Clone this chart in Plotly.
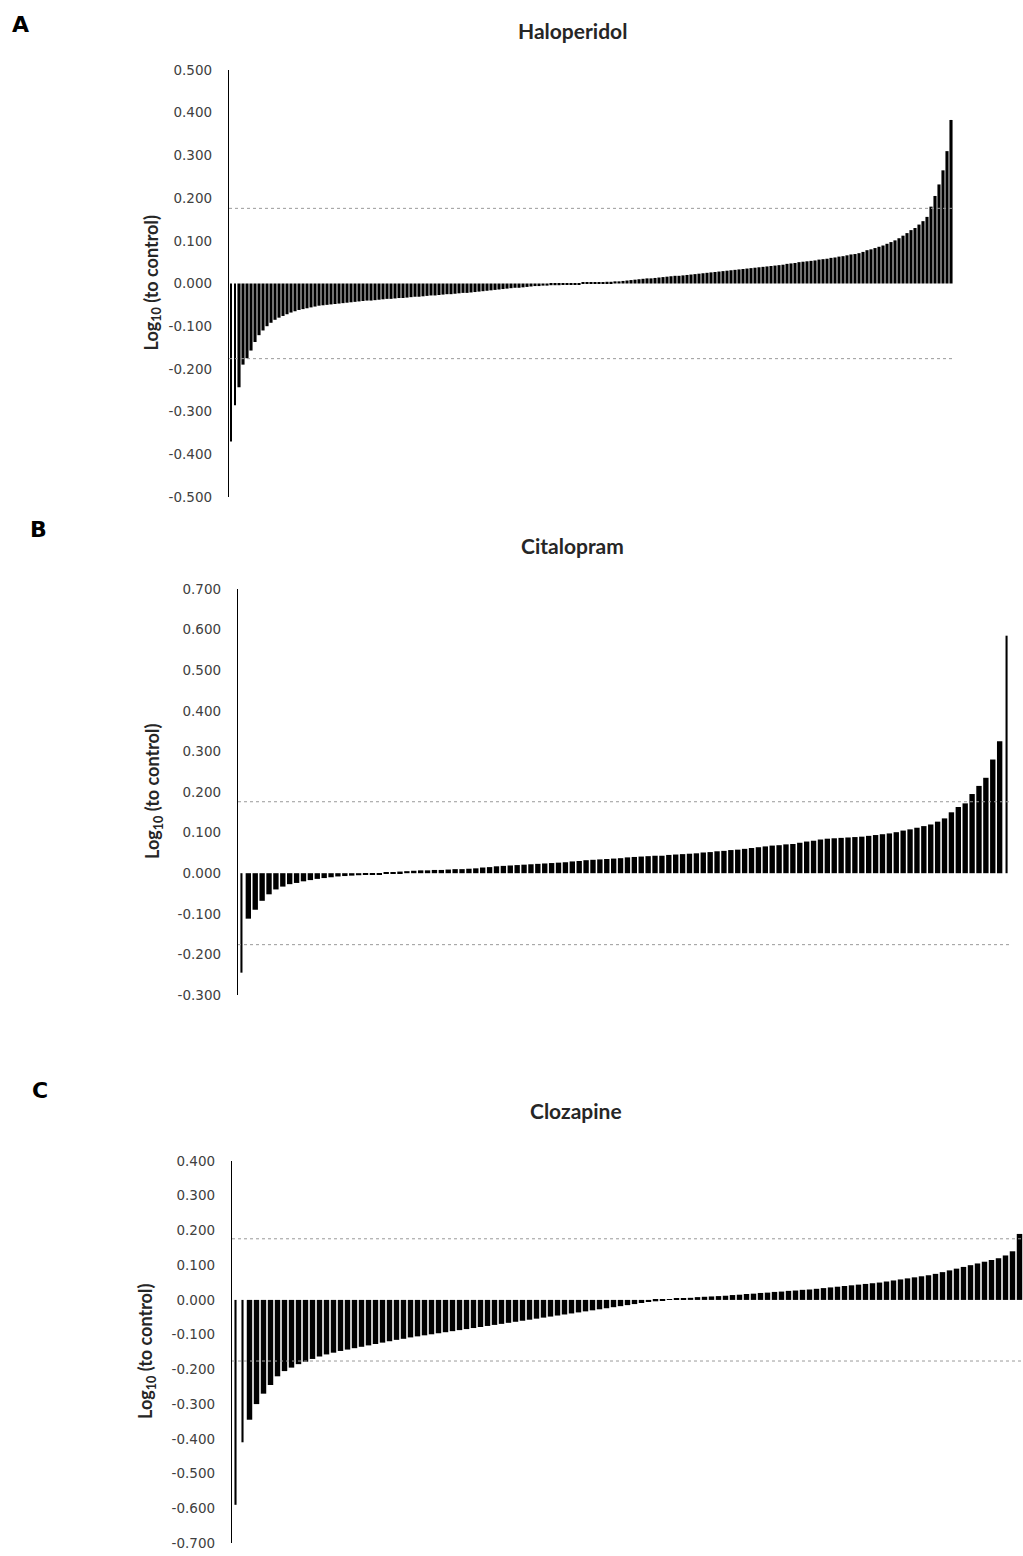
import plotly.graph_objects as go

# ---------------- data (sorted log10 ratios to control) ----------------
haloperidol = [
    -0.370, -0.285, -0.243, -0.190, -0.175, -0.157, -0.137, -0.121, -0.110, -0.100,
    -0.092, -0.085, -0.080, -0.076, -0.072, -0.068, -0.065, -0.062, -0.060, -0.058,
    -0.056, -0.054, -0.052, -0.051, -0.050, -0.049, -0.048, -0.047, -0.046, -0.045,
    -0.044, -0.043, -0.042, -0.041, -0.040, -0.040, -0.039, -0.038, -0.037, -0.036,
    -0.036, -0.035, -0.034, -0.034, -0.033, -0.032, -0.031, -0.031, -0.030, -0.029,
    -0.028, -0.028, -0.027, -0.026, -0.025, -0.025, -0.024, -0.023, -0.022, -0.022,
    -0.021, -0.020, -0.019, -0.018, -0.017, -0.016, -0.015, -0.014, -0.013, -0.012,
    -0.011, -0.010, -0.010, -0.009, -0.008, -0.007, -0.006, -0.006, -0.005, -0.005,
    -0.004, -0.004, -0.004, -0.003, -0.003, -0.003, -0.002, -0.002, 0.002, 0.002,
    0.002, 0.003, 0.003, 0.003, 0.004, 0.004, 0.005, 0.005, 0.006, 0.007,
    0.008, 0.009, 0.010, 0.011, 0.012, 0.012, 0.013, 0.014, 0.015, 0.016,
    0.017, 0.018, 0.018, 0.019, 0.020, 0.021, 0.022, 0.023, 0.024, 0.025,
    0.026, 0.027, 0.028, 0.029, 0.030, 0.031, 0.032, 0.033, 0.034, 0.035,
    0.036, 0.037, 0.038, 0.039, 0.040, 0.041, 0.042, 0.043, 0.044, 0.046,
    0.047, 0.048, 0.050, 0.051, 0.052, 0.053, 0.054, 0.056, 0.057, 0.058,
    0.060, 0.061, 0.063, 0.064, 0.066, 0.068, 0.069, 0.071, 0.074, 0.078,
    0.080, 0.083, 0.086, 0.089, 0.093, 0.097, 0.101, 0.106, 0.112, 0.118,
    0.125, 0.130, 0.138, 0.146, 0.156, 0.180, 0.205, 0.232, 0.265, 0.310,
    0.383,
]

citalopram = [
    -0.245, -0.112, -0.090, -0.068, -0.052, -0.040, -0.033, -0.027, -0.024, -0.020,
    -0.017, -0.014, -0.012, -0.010, -0.008, -0.007, -0.006, -0.005, -0.004, -0.004,
    -0.003, 0.002, 0.003, 0.004, 0.005, 0.006, 0.007, 0.007, 0.008, 0.008,
    0.009, 0.010, 0.010, 0.011, 0.012, 0.014, 0.015, 0.017, 0.018, 0.019,
    0.020, 0.021, 0.022, 0.023, 0.024, 0.025, 0.026, 0.027, 0.029, 0.030,
    0.032, 0.033, 0.034, 0.035, 0.036, 0.037, 0.039, 0.040, 0.041, 0.042,
    0.043, 0.043, 0.045, 0.046, 0.047, 0.048, 0.049, 0.051, 0.052, 0.054,
    0.055, 0.057, 0.058, 0.060, 0.062, 0.064, 0.066, 0.068, 0.069, 0.071,
    0.072, 0.075, 0.078, 0.080, 0.083, 0.085, 0.086, 0.087, 0.088, 0.089,
    0.090, 0.092, 0.094, 0.096, 0.098, 0.101, 0.105, 0.108, 0.112, 0.116,
    0.120, 0.127, 0.135, 0.150, 0.163, 0.172, 0.195, 0.215, 0.235, 0.280,
    0.325, 0.585,
]

clozapine = [
    -0.590, -0.410, -0.345, -0.300, -0.270, -0.245, -0.220, -0.205, -0.195, -0.185,
    -0.178, -0.170, -0.163, -0.157, -0.152, -0.147, -0.143, -0.139, -0.135, -0.131,
    -0.127, -0.123, -0.119, -0.115, -0.112, -0.108, -0.105, -0.102, -0.099, -0.096,
    -0.093, -0.090, -0.087, -0.084, -0.081, -0.078, -0.075, -0.072, -0.069, -0.066,
    -0.063, -0.060, -0.057, -0.054, -0.051, -0.048, -0.045, -0.042, -0.039, -0.036,
    -0.033, -0.030, -0.027, -0.024, -0.021, -0.018, -0.015, -0.012, -0.009, -0.006,
    -0.004, -0.003, 0.002, 0.003, 0.004, 0.006, 0.008, 0.009, 0.010, 0.011,
    0.012, 0.014, 0.015, 0.017, 0.018, 0.020, 0.021, 0.023, 0.024, 0.026,
    0.027, 0.029, 0.030, 0.032, 0.034, 0.036, 0.038, 0.040, 0.042, 0.044,
    0.046, 0.048, 0.050, 0.053, 0.056, 0.059, 0.062, 0.065, 0.068, 0.071,
    0.075, 0.080, 0.085, 0.090, 0.095, 0.100, 0.105, 0.110, 0.115, 0.120,
    0.128, 0.140, 0.190,
]

titles = ["Haloperidol", "Citalopram", "Clozapine"]
letters = ["A", "B", "C"]
threshold = 0.176  # log10(1.5)

ticks_A = ["0.500", "0.400", "0.300", "0.200", "0.100", "0.000",
           "-0.100", "-0.200", "-0.300", "-0.400", "-0.500"]
ticks_B = ["0.700", "0.600", "0.500", "0.400", "0.300", "0.200", "0.100",
           "0.000", "-0.100", "-0.200", "-0.300"]
ticks_C = ["0.400", "0.300", "0.200", "0.100", "0.000", "-0.100", "-0.200",
           "-0.300", "-0.400", "-0.500", "-0.600", "-0.700"]

# ---------------- layout geometry (page pixels) ----------------
W, H = 1023, 1556


def fx(px):
    return px / W


def fy(py):
    return 1 - py / H


panels = [
    dict(x0=229, x1=953, y0=70, y1=497, tx=572, ty=30, lx=20, ly=24, ax=152),
    dict(x0=238, x1=1010, y0=589, y1=995, tx=572, ty=545, lx=38, ly=529, ax=153),
    dict(x0=232, x1=1024, y0=1161, y1=1543, tx=576, ty=1110, lx=40, ly=1090, ax=146),
]
narrow = [[0, 1], [0, -1], [0, 1]]   # extreme bars drawn as thin spikes

series = [haloperidol, citalopram, clozapine]
tick_sets = [ticks_A, ticks_B, ticks_C]

fig = go.Figure()
annotations = []
shapes = []
TICK_FONT = dict(family="DejaVu Sans, sans-serif", size=13.5, color="#404040")
TEXT_FAM = "Lato, Open Sans, sans-serif"

for k, (vals, p) in enumerate(zip(series, panels)):
    n = len(vals)
    idx = list(range(n))
    widths = [0.78] * n
    for j in narrow[k]:
        widths[j] = 0.3
    xa = "x" if k == 0 else f"x{k+1}"
    ya = "y" if k == 0 else f"y{k+1}"
    fig.add_trace(go.Bar(
        x=idx, y=vals, xaxis=xa, yaxis=ya, width=widths,
        marker=dict(color="black", line=dict(width=0)),
        showlegend=False, hoverinfo="y",
    ))
    xkey = "xaxis" if k == 0 else f"xaxis{k+1}"
    ykey = "yaxis" if k == 0 else f"yaxis{k+1}"
    fig.layout[xkey] = dict(
        domain=[fx(p["x0"]), min(1.0, fx(p["x1"]))],
        range=[-0.5, n - 0.5], anchor=ya, automargin=False,
        showticklabels=False, showgrid=False, zeroline=False,
        showline=False, ticks="", fixedrange=True,
    )
    tl = tick_sets[k]
    tv = [float(t) for t in tl]
    fig.layout[ykey] = dict(
        domain=[fy(p["y1"]), fy(p["y0"])],
        range=[min(tv), max(tv)], anchor=xa, automargin=False,
        tickmode="array", tickvals=tv, ticktext=tl, tickfont=TICK_FONT,
        ticklabeloverflow="allow",
        showgrid=False, zeroline=False,
        showline=True, linecolor="black", linewidth=1.3,
        ticks="", ticklabelstandoff=13,
    )
    for t in (threshold, -threshold):
        shapes.append(dict(
            type="line", xref=xa, yref=ya, x0=-0.5, x1=n - 0.5, y0=t, y1=t,
            line=dict(color="#9a9a9a", width=1, dash="dot"), layer="above",
        ))
    annotations.append(dict(
        text=f"<b>{titles[k]}</b>", xref="paper", yref="paper",
        x=fx(p["tx"]), y=fy(p["ty"]), xanchor="center", yanchor="middle",
        showarrow=False, font=dict(family=TEXT_FAM, size=21, color="#262626"),
    ))
    annotations.append(dict(
        text=f"<b>{letters[k]}</b>", xref="paper", yref="paper",
        x=fx(p["lx"]), y=fy(p["ly"]), xanchor="center", yanchor="middle",
        showarrow=False, font=dict(family="DejaVu Sans, sans-serif", size=22, color="black"),
    ))
    annotations.append(dict(
        text="<b>Log<sub>10</sub> (to control)</b>", xref="paper", yref="paper",
        x=fx(p["ax"]), y=fy((p["y0"] + p["y1"]) / 2), xanchor="center", yanchor="middle",
        textangle=-90, showarrow=False,
        font=dict(family=TEXT_FAM, size=18, color="#262626"),
    ))

fig.update_layout(
    width=W, height=H,
    margin=dict(l=0, r=0, t=0, b=0, autoexpand=False),
    paper_bgcolor="white", plot_bgcolor="white",
    annotations=annotations, shapes=shapes,
)

fig.write_html(
    "out.html",
    config={"displayModeBar": False},
    post_script="document.body.style.margin='0';document.body.style.overflow='hidden';",
)
